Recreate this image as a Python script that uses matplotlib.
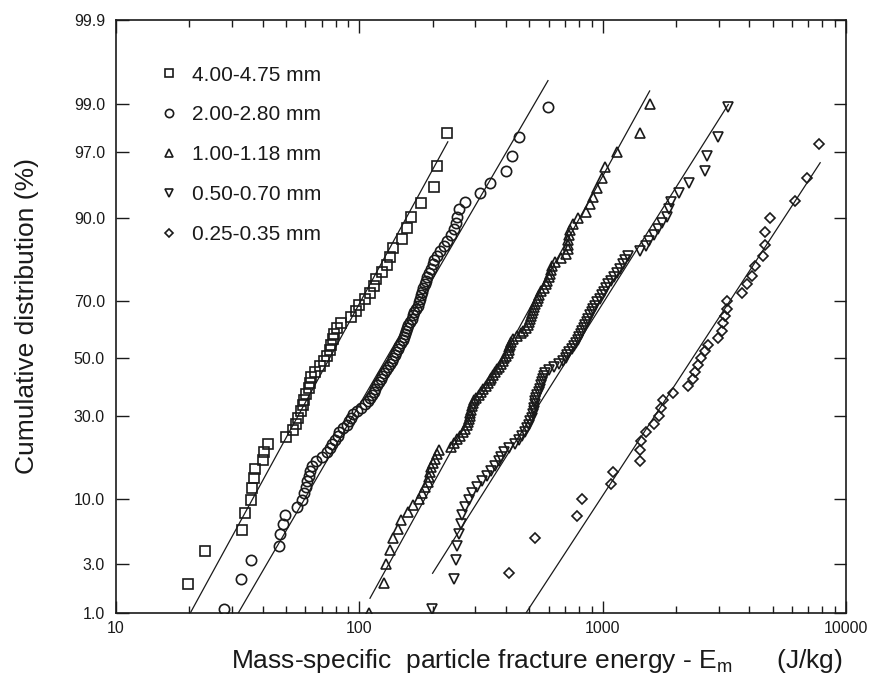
import numpy as np
import matplotlib
matplotlib.use("Agg")
import matplotlib.pyplot as plt
from matplotlib.ticker import FixedLocator, NullLocator, LogLocator, NullFormatter
from statistics import NormalDist

# Mass-specific fracture energy (J/kg) and cumulative distribution (%) per size class
sq_energy = [19.8, 23.3, 33.0, 33.8, 35.9, 36.2, 36.8, 37.2, 40.0, 40.5,
             42.2, 50.0, 53.4, 54.8, 56.0, 57.8, 58.5, 59.5, 60.5, 62.0,
             62.8, 63.4, 66.0, 69.2, 71.5, 73.7, 75.5, 76.5, 77.8, 79.0,
             81.0, 84.0, 92.0, 97.0, 99.5, 106, 111, 115, 117, 124,
             130, 134, 138, 150, 157, 163, 179, 203, 208, 229]
sq_cum = [1.96, 3.92, 5.88, 7.84, 9.80, 11.76, 13.73, 15.69, 17.65, 19.61,
          21.57, 23.53, 25.49, 27.45, 29.41, 31.37, 33.33, 35.29, 37.25, 39.22,
          41.18, 43.14, 45.10, 47.06, 49.02, 50.98, 52.94, 54.90, 56.86, 58.82,
          60.78, 62.75, 64.71, 66.67, 68.63, 70.59, 72.55, 74.51, 76.47, 78.43,
          80.39, 82.35, 84.31, 86.27, 88.24, 90.20, 92.16, 94.12, 96.08, 98.04]

ci_energy = [27.7, 32.7, 35.9, 46.7, 47.4, 48.6, 49.7, 55.6, 58.3, 59.3,
             60.2, 61.2, 62.0, 62.8, 64.0, 66.5, 70.4, 73.5, 75.5, 77.5,
             79.5, 81.8, 82.8, 85.5, 89.2, 90.8, 92.5, 94.5, 97.5, 102,
             106, 108.5, 110.5, 112.5, 114.5, 116.5, 118.5, 120.5, 122.5, 124.5,
             126.5, 129, 131.5, 134, 136, 138, 140, 142, 144, 146,
             148, 150.5, 152.5, 154, 156, 157.5, 159, 161, 164, 166,
             168.5, 171.5, 174.5, 176.5, 178, 179.5, 181, 183, 185.5, 188,
             190.5, 194, 197, 200, 203, 209, 215, 222, 230, 238,
             245, 249, 252, 256, 272, 314, 345, 400, 423, 454, 594]
# circles and inverted triangles have the same number of particles
cum_91 = [1.09, 2.17, 3.26, 4.35, 5.43, 6.52, 7.61, 8.70, 9.78,
          10.87, 11.96, 13.04, 14.13, 15.22, 16.30, 17.39, 18.48, 19.57,
          20.65, 21.74, 22.83, 23.91, 25.00, 26.09, 27.17, 28.26, 29.35,
          30.43, 31.52, 32.61, 33.70, 34.78, 35.87, 36.96, 38.04, 39.13,
          40.22, 41.30, 42.39, 43.48, 44.57, 45.65, 46.74, 47.83, 48.91,
          50.00, 51.09, 52.17, 53.26, 54.35, 55.43, 56.52, 57.61, 58.70,
          59.78, 60.87, 61.96, 63.04, 64.13, 65.22, 66.30, 67.39, 68.48,
          69.57, 70.65, 71.74, 72.83, 73.91, 75.00, 76.09, 77.17, 78.26,
          79.35, 80.43, 81.52, 82.61, 83.70, 84.78, 85.87, 86.96, 88.04,
          89.13, 90.22, 91.30, 92.39, 93.48, 94.57, 95.65, 96.74, 97.83, 98.91]

tr_energy = [109.6, 126.3, 128.2, 134, 138, 144.5, 148, 158, 166, 176,
             181, 186, 191, 193, 195, 196.7, 200, 204, 208, 212,
             238, 246, 253, 259, 266, 272, 276, 280, 282, 284,
             286, 288, 291, 294, 296.5, 302, 309, 316, 323, 330,
             337, 343, 349, 355, 362, 368, 375, 381, 388, 394,
             401, 408, 411, 414, 416, 419, 428, 445, 462, 472,
             482, 492, 498, 504, 509, 514, 519, 524, 529, 535,
             541, 549, 560, 572, 583, 593, 603, 609, 616, 622,
             636, 672, 705, 719, 719, 719, 725, 735, 755, 790,
             856, 885, 915, 950, 990, 1020, 1140, 1419, 1561]
tr_cum = [1, 2, 3, 4, 5, 6, 7, 8, 9, 10,
          11, 12, 13, 14, 15, 16, 17, 18, 19, 20,
          21, 22, 23, 24, 25, 26, 27, 28, 29, 30,
          31, 32, 33, 34, 35, 36, 37, 38, 39, 40,
          41, 42, 43, 44, 45, 46, 47, 48, 49, 50,
          51, 52, 53, 54, 55, 56, 57, 58, 59, 60,
          61, 62, 63, 64, 65, 66, 67, 68, 69, 70,
          71, 72, 73, 74, 75, 76, 77, 78, 79, 80,
          81, 82, 83, 84, 85, 86, 87, 88, 89, 90,
          91, 92, 93, 94, 95, 96, 97, 98, 99]

inv_energy = [198, 245, 249, 253, 257, 262, 265, 273, 283, 290,
              305, 318, 334, 347, 362, 374, 382, 393, 413, 436,
              454, 466, 478, 490, 498, 505, 511, 516, 520, 523,
              526, 529, 534, 539, 545, 551, 557, 563, 568, 572,
              577, 600, 628, 662, 690, 704, 712, 730, 745, 762,
              779, 790, 802, 813, 825, 838, 850, 862, 873, 887,
              900, 915, 930, 946, 972, 992, 1008, 1030, 1055, 1080,
              1110, 1145, 1180, 1208, 1240, 1275, 1420, 1500, 1555, 1620,
              1695, 1760, 1830, 1870, 1918, 2060, 2270, 2630, 2673, 2987, 3262]

di_energy = [413, 527, 783, 822, 1084, 1102, 1419, 1419, 1443, 1513,
             1627, 1710, 1742, 1770, 1945, 2243, 2354, 2390, 2470, 2545,
             2640, 2713, 2985, 3080, 3130, 3180, 3229, 3229, 3723, 3908,
             4100, 4230, 4576, 4645, 4645, 4878, 6183, 6906, 7762]
di_cum = [2.5, 5.0, 7.5, 10.0, 12.5, 15.0, 17.5, 20.0, 22.5, 25.0,
          27.5, 30.0, 32.5, 35.0, 37.5, 40.0, 42.5, 45.0, 47.5, 50.0,
          52.5, 55.0, 57.5, 60.0, 62.5, 65.0, 67.5, 70.0, 72.5, 75.0,
          77.5, 80.0, 82.5, 85.0, 87.5, 90.0, 92.5, 95.0, 97.5]

# fitted log-normal lines: (energy at start, energy at end), (% at start, % at end)
sq_fit = ([20.2, 231], [1.0, 97.6])
ci_fit = ([31.8, 596], [1.0, 99.44])
tr_fit = ([110.6, 1560], [1.42, 99.27])
inv_fit = ([200, 3283], [2.48, 98.98])
di_fit = ([484, 7833], [1.0, 96.3])

labels = ["4.00-4.75 mm", "2.00-2.80 mm", "1.00-1.18 mm", "0.50-0.70 mm", "0.25-0.35 mm"]
y_ticks = [1.0, 3.0, 10.0, 30.0, 50.0, 70.0, 90.0, 97.0, 99.0, 99.9]
x_ticks = [10, 100, 1000, 10000]

# normal probability scale for the y axis
_nd = NormalDist()
_ppf = np.vectorize(lambda v: _nd.inv_cdf(v / 100.0), otypes=[float])
_cdf = np.vectorize(lambda v: _nd.cdf(v) * 100.0, otypes=[float])


def prob_fwd(p):
    p = np.clip(np.asarray(p, dtype=float), 1e-7, 100 - 1e-7)
    return _ppf(p)


def prob_inv(z):
    return _cdf(np.asarray(z, dtype=float))


plt.rcParams["font.family"] = ["Liberation Sans", "DejaVu Sans"]
plt.rcParams["mathtext.default"] = "regular"
ink = "#1a1a1a"

fig = plt.figure(figsize=(8.75, 6.81), dpi=100)
ax = fig.add_axes([116 / 875, 68 / 681, 730 / 875, 593 / 681])

series = [
    (sq_energy, sq_cum, sq_fit, "s", 7.6),
    (ci_energy, cum_91, ci_fit, "o", 7.4),
    (tr_energy, tr_cum, tr_fit, "^", 7.4),
    (inv_energy, cum_91, inv_fit, "v", 7.4),
    (di_energy, di_cum, di_fit, "D", 5.0),
]
for (xe, yc, fit, mk, ms), lab in zip(series, labels):
    ax.plot(xe, yc, ls="none", marker=mk, ms=ms, mfc="none", mec=ink, mew=1.2, label=lab)
    ax.plot(fit[0], fit[1], color=ink, lw=0.9)

ax.set_xscale("log")
ax.set_yscale("function", functions=(prob_fwd, prob_inv))
ax.set_xlim(10, 10000)
ax.set_ylim(1.0, 99.9)

ax.yaxis.set_major_locator(FixedLocator(y_ticks))
ax.yaxis.set_minor_locator(NullLocator())
ax.set_yticklabels([f"{t:.1f}" for t in y_ticks])
ax.xaxis.set_major_locator(FixedLocator(x_ticks))
ax.xaxis.set_minor_locator(LogLocator(base=10, subs=range(2, 10)))
ax.xaxis.set_minor_formatter(NullFormatter())
ax.set_xticklabels([str(t) for t in x_ticks])

ax.tick_params(which="both", direction="in", top=True, right=True, color=ink, labelcolor=ink)
ax.tick_params(which="major", length=9, width=1.0, labelsize=11.5)
ax.tick_params(which="minor", length=5, width=1.0)
ax.tick_params(axis="y", pad=8)
ax.tick_params(axis="x", pad=6)
for s in ax.spines.values():
    s.set_linewidth(1.2)
    s.set_color(ink)

ax.set_ylabel("Cumulative distribution (%)", fontsize=19, color=ink)
ax.yaxis.set_label_coords(-0.105, 0.5)
ax.set_xlabel("Mass-specific  particle fracture energy - E$_{m}$      (J/kg)", fontsize=19, color=ink)
ax.xaxis.set_label_coords(0.576, -0.058)

ax.legend(loc="upper left", bbox_to_anchor=(0.058, 0.923), frameon=False, fontsize=15,
          handlelength=1.0, handletextpad=0.6, labelspacing=1.0, borderpad=0,
          borderaxespad=0, numpoints=1, markerscale=0.8, labelcolor=ink)

plt.savefig("out.png", dpi=100)
